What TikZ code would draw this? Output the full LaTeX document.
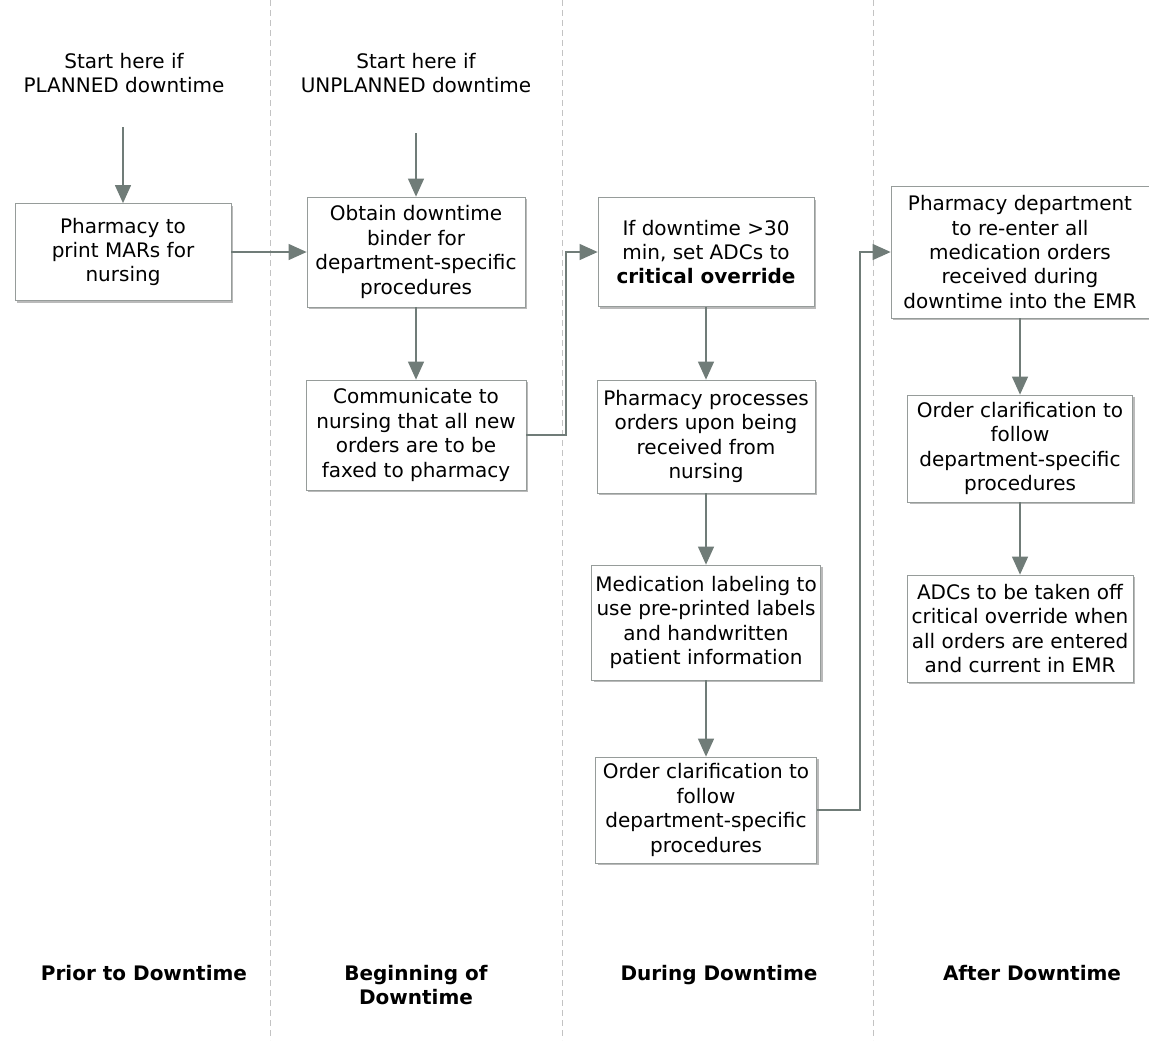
\documentclass[tikz,border=0pt]{standalone}
\usepackage{fontspec}
\setmainfont{DejaVu Sans}
\usetikzlibrary{arrows.meta,shadows}
\definecolor{linegray}{RGB}{112,124,120}
\definecolor{boxgray}{RGB}{150,156,154}
\definecolor{lanegray}{RGB}{195,195,195}

\begin{document}
\begin{tikzpicture}[x=0.5pt,y=0.5pt,
    font=\fontsize{10}{12.2}\selectfont,
    stepbox/.style={draw=boxgray,fill=white,align=center,inner sep=2pt,
      drop shadow={shadow xshift=1.2pt,shadow yshift=-1.2pt,fill=black!45,opacity=0.6}},
    flow/.style={draw=linegray,semithick,-{Triangle[length=9pt,width=8pt,fill=linegray]}},
    lane/.style={lanegray,dash pattern=on 3pt off 2pt},
    phase/.style={font=\fontsize{10}{12.2}\selectfont\bfseries,align=center,anchor=north}]
  \useasboundingbox (0,0) rectangle (1149,-1040);
  \fill[white] (0,0) rectangle (1149,-1040);
  % swim lanes
  \foreach \x in {270,562,873}
    \draw[lane] (\x,0) -- (\x,-1040);

  % starting points
  \node[align=center] (planned) at (124,-73) {Start here if\\PLANNED downtime};
  \node[align=center] (unplanned) at (416,-73) {Start here if\\UNPLANNED downtime};
  \coordinate (s1) at (123,-127);
  \coordinate (s2) at (416,-133);

  % prior to downtime
  \node[stepbox,minimum width=108pt,minimum height=48.5pt] (print) at (123,-252)
    {Pharmacy to\\print MARs for\\nursing};
  % beginning of downtime
  \node[stepbox,minimum width=109pt,minimum height=55pt] (binder) at (416,-252)
    {Obtain downtime\\binder for\\department-specific\\procedures};
  \node[stepbox,minimum width=110pt,minimum height=55pt] (notify) at (416,-435)
    {Communicate to\\nursing that all new\\orders are to be\\faxed to pharmacy};
  % during downtime
  \node[stepbox,minimum width=108pt,minimum height=54.5pt] (override) at (706,-252)
    {If downtime >30\\min, set ADCs to\\\textbf{critical override}};
  \node[stepbox,minimum width=109pt,minimum height=56.5pt] (process) at (706,-436.5)
    {Pharmacy processes\\orders upon being\\received from\\nursing};
  \node[stepbox,minimum width=114pt,minimum height=57.5pt] (label) at (706,-622.5)
    {Medication labeling to\\use pre-printed labels\\and handwritten\\patient information};
  \node[stepbox,minimum width=110.5pt,minimum height=53pt] (clarify) at (706,-810)
    {Order clarification to\\follow\\department-specific\\procedures};
  % after downtime
  \node[stepbox,minimum width=129pt,minimum height=66pt] (reenter) at (1020,-252)
    {Pharmacy department\\to re-enter all\\medication orders\\received during\\downtime into the EMR};
  \node[stepbox,minimum width=112.5pt,minimum height=53.5pt] (clarifyafter) at (1020,-448.5)
    {Order clarification to\\follow\\department-specific\\procedures};
  \node[stepbox,minimum width=113pt,minimum height=53.5pt] (release) at (1020,-628.5)
    {ADCs to be taken off\\critical override when\\all orders are entered\\and current in EMR};

  \coordinate (j1) at (566,-435);
  \coordinate (j2) at (860,-810);

  \draw[flow] (s1) -- (print.north);
  \draw[flow] (s2) -- (binder.north);
  \draw[flow] (print.east) -- (binder.west);
  \draw[flow] (binder) -- (notify);
  \draw[flow] (notify.east) -- (j1) |- (override.west);
  \draw[flow] (override) -- (process);
  \draw[flow] (process) -- (label);
  \draw[flow] (label) -- (clarify);
  \draw[flow] (clarify.east) -- (j2) |- (reenter.west);
  \draw[flow] (reenter) -- (clarifyafter);
  \draw[flow] (clarifyafter) -- (release);

  % phase names
  \node[phase] (prior) at (144,-958) {Prior to Downtime};
  \node[phase] (beginning) at (416,-958) {Beginning of\\Downtime};
  \node[phase] (during) at (719,-958) {During Downtime};
  \node[phase] (after) at (1032,-958) {After Downtime};
\end{tikzpicture}
\end{document}
